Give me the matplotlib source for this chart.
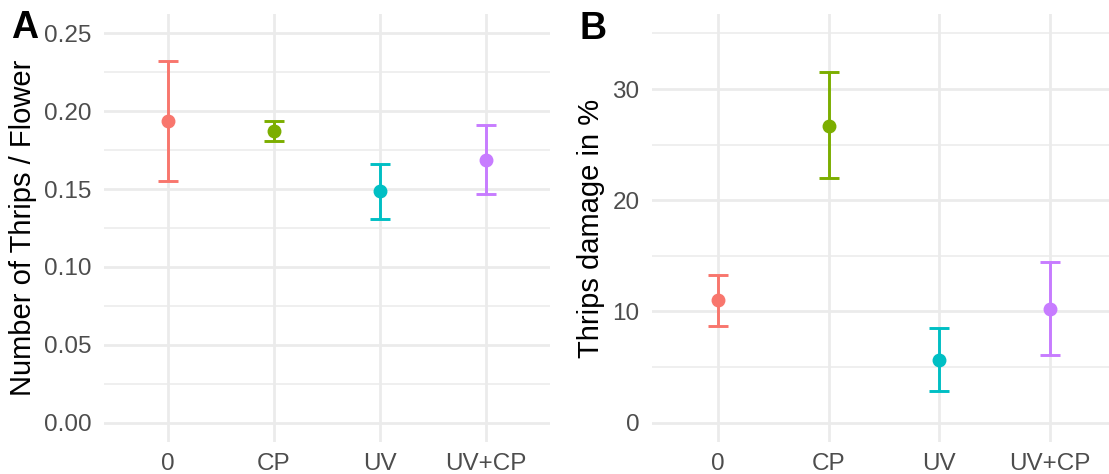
import matplotlib.pyplot as plt
from matplotlib.ticker import MultipleLocator

# Daten
treatments = ["0", "CP", "UV", "UV+CP"]
colors = ["#F8766D", "#7CAE00", "#00BFC4", "#C77CFF"]

thrips_mean = [0.194, 0.1875, 0.149, 0.169]
thrips_low = [0.155, 0.181, 0.131, 0.147]
thrips_high = [0.232, 0.194, 0.166, 0.191]

damage_mean = [11.0, 26.7, 5.6, 10.2]
damage_low = [8.7, 22.0, 2.8, 6.1]
damage_high = [13.3, 31.5, 8.5, 14.4]

plt.rcParams["font.family"] = ["Liberation Sans", "DejaVu Sans"]

W, H = 1109, 474
fig = plt.figure(figsize=(W / 100, H / 100), dpi=100)

ax_a = fig.add_axes([104 / W, 1 - 442 / H, (550 - 104) / W, (442 - 14) / H])
ax_b = fig.add_axes([652 / W, 1 - 442 / H, (1116 - 652) / W, (442 - 14) / H])


def draw_panel(ax, mean, low, high, ylim, major, minor, ylabel, fmt):
    x = list(range(1, len(treatments) + 1))
    for i in range(len(treatments)):
        ax.errorbar(
            x[i], mean[i],
            yerr=[[mean[i] - low[i]], [high[i] - mean[i]]],
            fmt="o", color=colors[i], markersize=9,
            elinewidth=2.1, capsize=7.5, capthick=2.1, zorder=3,
        )
    ax.set_xlim(0.4, 4.6)
    ax.set_ylim(*ylim)
    ax.set_xticks(x)
    ax.set_xticklabels(treatments)
    ax.yaxis.set_major_locator(MultipleLocator(major))
    ax.yaxis.set_minor_locator(MultipleLocator(minor))
    ax.yaxis.set_major_formatter(fmt)
    ax.grid(True, which="major", color="#EBEBEB", linewidth=2.0, zorder=0)
    ax.grid(True, which="minor", axis="y", color="#EBEBEB", linewidth=1.1, zorder=0)
    for s in ax.spines.values():
        s.set_visible(False)
    ax.tick_params(which="both", length=0, labelsize=17.5, labelcolor="#4D4D4D")
    ax.tick_params(axis="x", pad=8)
    ax.tick_params(axis="y", pad=9)
    ax.set_ylabel(ylabel, fontsize=21, color="black", labelpad=5)
    ax.set_axisbelow(True)


draw_panel(ax_a, thrips_mean, thrips_low, thrips_high, (-0.0125, 0.2625),
           0.05, 0.025, "Number of Thrips / Flower", "{x:.2f}")
draw_panel(ax_b, damage_mean, damage_low, damage_high, (-1.75, 36.75),
           10, 5, "Thrips damage in %", "{x:.0f}")

fig.text(11 / W, 1 - 28 / H, "A", fontsize=27, fontweight="bold", va="center")
fig.text(579 / W, 1 - 29 / H, "B", fontsize=27, fontweight="bold", va="center")

fig.savefig("out.png", dpi=100)
